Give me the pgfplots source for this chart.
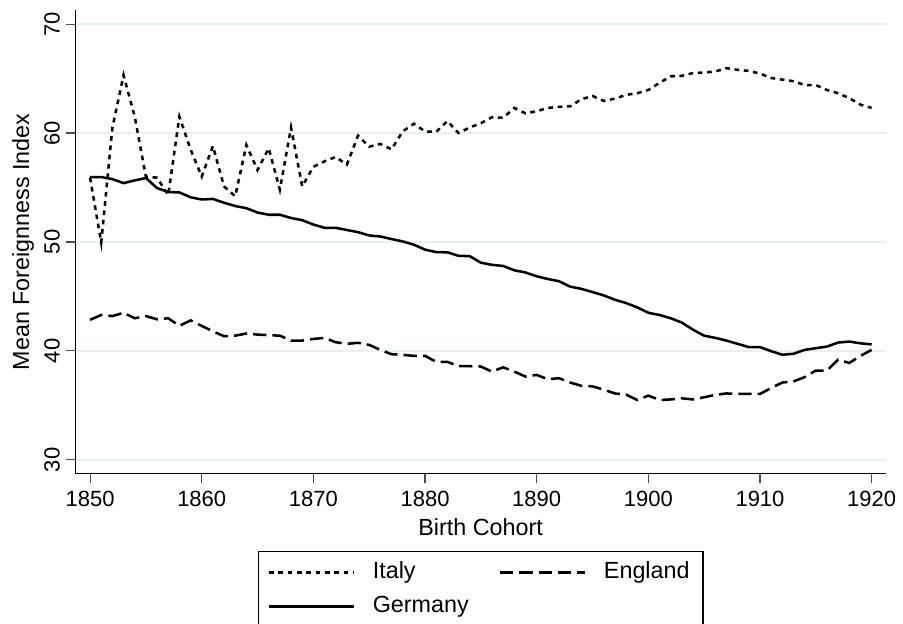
\documentclass[border=0pt]{standalone}
\usepackage{pgfplots}
\pgfplotsset{compat=1.18}
\usepackage{fontspec}
\setmainfont{Liberation Sans}
\definecolor{gridc}{RGB}{232,240,242}
\begin{document}
\begin{tikzpicture}
\begin{axis}[
  at={(0pt,0pt)}, anchor=south west,
  scale only axis,
  width=608pt, height=348pt,
  xmin=1848.68, xmax=1921.28,
  ymin=28.71, ymax=71.29,
  axis lines*=left,
  axis line style={line width=0.8pt, black, -},
  xtick={1850,1860,...,1920},
  ytick={30,40,...,70},
  tick align=outside,
  major tick length=6.75pt,
  tick style={line width=0.8pt, black!70},
  ymajorgrids=true,
  grid style={line width=1.3pt, gridc},
  /pgf/number format/assume math mode=true,
  /pgf/number format/1000 sep={},
  tick label style={font=\fontsize{16.5}{18}\selectfont},
  xticklabel style={anchor=north, inner sep=0pt, yshift=-6pt},
  yticklabel style={rotate=90, anchor=base, inner sep=0pt},
  yticklabel shift=5pt,
  xlabel={Birth Cohort},
  ylabel={Mean Foreignness Index},
  label style={font=\fontsize{17.5}{20}\selectfont},
  xlabel style={at={(axis description cs:0.5,0)}, anchor=base, yshift=-46pt},
  ylabel style={at={(axis description cs:-0.057,0.5)}, rotate=0, anchor=base},
  legend columns=2,
  legend cell align=left,
  legend image code/.code={\draw[#1] (0pt,0pt) -- (64pt,0pt);},
  legend style={at={(0.5,0)}, anchor=north, yshift=-58pt,
    draw=black, line width=0.9pt,
    font=\fontsize{17.5}{20}\selectfont,
    inner xsep=7pt, inner ysep=4pt,
    nodes={inner sep=3pt, text height=13pt, text depth=4pt},
    /tikz/every odd column/.append style={column sep=10pt},
    /tikz/every even column/.append style={column sep=19.5pt},
    row sep=2.5pt},
]
\addplot[black, line width=1.9pt, dash pattern=on 3.5pt off 3.5pt] coordinates {
(1850,55.9) (1851,49.95) (1852,60.5) (1853,65.3) (1854,61.5) (1855,56.0)
(1856,55.9) (1857,54.3) (1858,61.5) (1859,58.5) (1860,56.0) (1861,58.8)
(1862,55.1) (1863,54.2) (1864,58.9) (1865,56.6) (1866,58.6) (1867,54.8)
(1868,60.5) (1869,55.1) (1870,56.9) (1871,57.4) (1872,57.8) (1873,57.1)
(1874,59.75) (1875,58.75) (1876,59.0) (1877,58.5) (1878,60.15) (1879,60.85)
(1880,60.15) (1881,60.1) (1882,61.1) (1883,60.0) (1884,60.5) (1885,60.9)
(1886,61.45) (1887,61.4) (1888,62.3) (1889,61.8) (1890,62.0) (1891,62.3)
(1892,62.4) (1893,62.45) (1894,63.1) (1895,63.4) (1896,62.95) (1897,63.15)
(1898,63.5) (1899,63.65) (1900,63.95) (1901,64.6) (1902,65.2) (1903,65.25)
(1904,65.5) (1905,65.55) (1906,65.65) (1907,65.95) (1908,65.8) (1909,65.7)
(1910,65.45) (1911,65.05) (1912,64.9) (1913,64.75) (1914,64.4) (1915,64.4)
(1916,63.95) (1917,63.65) (1918,63.2) (1919,62.6) (1920,62.3)
};
\addlegendentry{Italy}
\addplot[black, line width=1.9pt, dash pattern=on 10pt off 4.5pt] coordinates {
(1850,42.86) (1851,43.3) (1852,43.2) (1853,43.5) (1854,43.0) (1855,43.2)
(1856,42.9) (1857,43.0) (1858,42.3) (1859,42.8) (1860,42.3) (1861,41.8)
(1862,41.35) (1863,41.4) (1864,41.6) (1865,41.5) (1866,41.45) (1867,41.4)
(1868,40.95) (1869,40.95) (1870,41.1) (1871,41.2) (1872,40.8) (1873,40.65)
(1874,40.75) (1875,40.55) (1876,40.1) (1877,39.7) (1878,39.64) (1879,39.55)
(1880,39.55) (1881,39.0) (1882,39.0) (1883,38.6) (1884,38.6) (1885,38.57)
(1886,38.1) (1887,38.5) (1888,38.1) (1889,37.65) (1890,37.8) (1891,37.4)
(1892,37.5) (1893,37.1) (1894,36.8) (1895,36.75) (1896,36.45) (1897,36.1)
(1898,36.0) (1899,35.5) (1900,35.9) (1901,35.5) (1902,35.55) (1903,35.65)
(1904,35.55) (1905,35.75) (1906,35.97) (1907,36.1) (1908,36.05) (1909,36.05)
(1910,36.05) (1911,36.6) (1912,37.1) (1913,37.2) (1914,37.6) (1915,38.2)
(1916,38.2) (1917,39.2) (1918,38.9) (1919,39.55) (1920,40.1)
};
\addlegendentry{England}
\addplot[black, line width=1.9pt] coordinates {
(1850,55.96) (1851,55.96) (1852,55.77) (1853,55.4) (1854,55.65) (1855,55.87)
(1856,54.95) (1857,54.58) (1858,54.55) (1859,54.1) (1860,53.9) (1861,53.95)
(1862,53.6) (1863,53.3) (1864,53.1) (1865,52.7) (1866,52.5) (1867,52.5)
(1868,52.2) (1869,52.0) (1870,51.6) (1871,51.3) (1872,51.3) (1873,51.1)
(1874,50.9) (1875,50.6) (1876,50.5) (1877,50.27) (1878,50.05) (1879,49.75)
(1880,49.3) (1881,49.07) (1882,49.05) (1883,48.73) (1884,48.7) (1885,48.1)
(1886,47.9) (1887,47.8) (1888,47.4) (1889,47.2) (1890,46.85) (1891,46.6)
(1892,46.4) (1893,45.9) (1894,45.7) (1895,45.4) (1896,45.1) (1897,44.7)
(1898,44.4) (1899,44.0) (1900,43.5) (1901,43.3) (1902,43.0) (1903,42.6)
(1904,41.95) (1905,41.4) (1906,41.2) (1907,40.95) (1908,40.65) (1909,40.35)
(1910,40.35) (1911,39.98) (1912,39.65) (1913,39.74) (1914,40.1) (1915,40.25)
(1916,40.4) (1917,40.77) (1918,40.86) (1919,40.7) (1920,40.6)
};
\addlegendentry{Germany}
\end{axis}
\pgfresetboundingbox
\path[use as bounding box] (-56.5pt,-112.5pt) rectangle (620.8pt,355.5pt);
\end{tikzpicture}
\end{document}
